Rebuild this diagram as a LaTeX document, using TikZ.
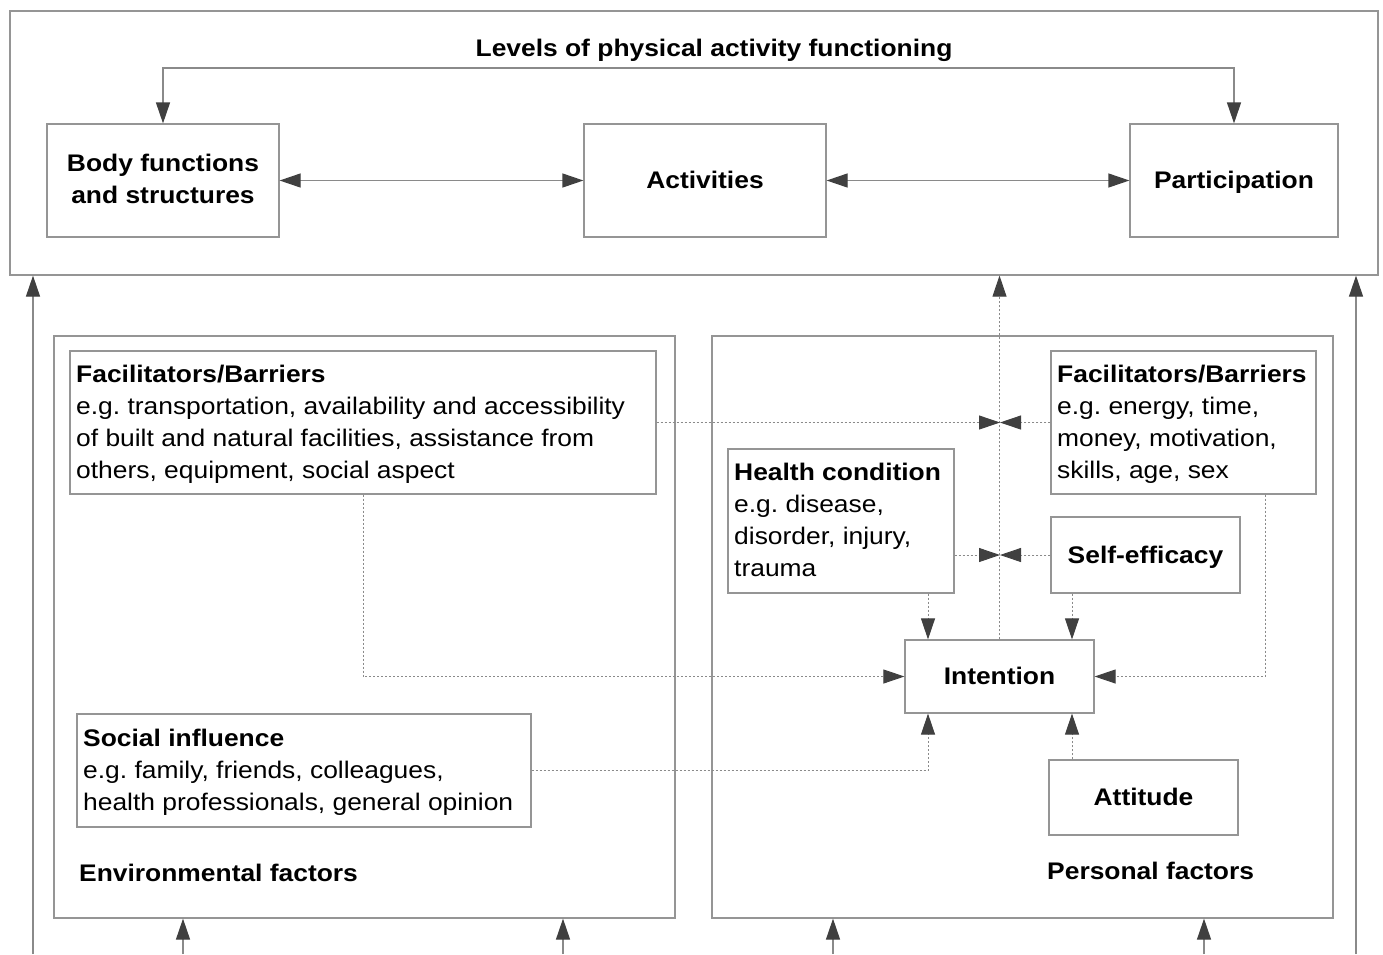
\documentclass[tikz,border=0pt]{standalone}
\usepackage{fontspec}
\setmainfont{Liberation Sans}[FakeStretch=1.1]
\usetikzlibrary{arrows.meta,calc}
\definecolor{boxgray}{HTML}{959595}
\definecolor{linegray}{HTML}{8A8A8A}
\definecolor{tipgray}{HTML}{404040}
\frenchspacing
\tikzset{
  box/.style={draw=boxgray,line width=1.2pt,inner sep=0pt,fill=white},
  con/.style={draw=linegray,line width=1.2pt},
  dotcon/.style={draw=linegray,line width=0.9pt,dash pattern=on 2pt off 2pt},
  tip/.style={-{Triangle[length=21pt,width=14pt,color=tipgray]}},
  tips/.style={{Triangle[length=21pt,width=14pt,color=tipgray]}-{Triangle[length=21pt,width=14pt,color=tipgray]}},
  txt/.style={inner sep=0pt,anchor=base west,font=\fontsize{24}{32}\selectfont},
  btxt/.style={inner sep=0pt,anchor=base west,font=\fontsize{24}{32}\selectfont\bfseries},
  ctxt/.style={inner sep=0pt,anchor=base,font=\fontsize{24}{32}\selectfont\bfseries},
}
\begin{document}
\begin{tikzpicture}[x=1pt,y=-1pt]
\useasboundingbox (0,0) rectangle (1383,954);
% boxes
\node[box,minimum width=1368pt,minimum height=264pt] (outer) at (694,143) {};
\node[box,minimum width=232pt,minimum height=113pt] (body) at (163,180.5) {};
\node[box,minimum width=242pt,minimum height=113pt] (act) at (705,180.5) {};
\node[box,minimum width=208pt,minimum height=113pt] (part) at (1234,180.5) {};
\node[box,minimum width=621pt,minimum height=582pt] (env) at (364.5,627) {};
\node[box,minimum width=621pt,minimum height=582pt] (pers) at (1022.5,627) {};
\node[box,minimum width=586pt,minimum height=143pt] (fbl) at (363,422.5) {};
\node[box,minimum width=265pt,minimum height=143pt] (fbr) at (1183.5,422.5) {};
\node[box,minimum width=226pt,minimum height=144pt] (hc) at (841,521) {};
\node[box,minimum width=189pt,minimum height=76pt] (se) at (1145.5,555) {};
\node[box,minimum width=189pt,minimum height=73pt] (int) at (999.5,676.5) {};
\node[box,minimum width=189pt,minimum height=75pt] (att) at (1143.5,797.5) {};
\node[box,minimum width=454pt,minimum height=113pt] (si) at (304,770.5) {};
% texts
\node[ctxt] (title) at (714,56) {Levels of physical activity functioning};
\node[ctxt] (bodyt1) at (163,171) {Body functions};
\node[ctxt] (bodyt2) at (163,203) {and structures};
\node[ctxt] (actt) at (705,188) {Activities};
\node[ctxt] (partt) at (1234,188) {Participation};
\node[btxt] (fbl1) at (76,382) {Facilitators/Barriers};
\node[txt] (fbl2) at (76,414) {e.g. transportation, availability and accessibility};
\node[txt] (fbl3) at (76,446) {of built and natural facilities, assistance from};
\node[txt] (fbl4) at (76,478) {others, equipment, social aspect};
\node[btxt] (fbr1) at (1057,382) {Facilitators/Barriers};
\node[txt] (fbr2) at (1057,414) {e.g. energy, time,};
\node[txt] (fbr3) at (1057,446) {money, motivation,};
\node[txt] (fbr4) at (1057,478) {skills, age, sex};
\node[btxt] (hc1) at (734,480) {Health condition};
\node[txt] (hc2) at (734,512) {e.g. disease,};
\node[txt] (hc3) at (734,544) {disorder, injury,};
\node[txt] (hc4) at (734,576) {trauma};
\node[ctxt] (set) at (1145.5,563) {Self-efficacy};
\node[ctxt] (intt) at (999.5,684) {Intention};
\node[ctxt] (attt) at (1143.5,805) {Attitude};
\node[btxt] (si1) at (83,746) {Social influence};
\node[txt] (si2) at (83,778) {e.g. family, friends, colleagues,};
\node[txt] (si3) at (83,810) {health professionals, general opinion};
\node[btxt] (envt) at (79,881) {Environmental factors};
\node[btxt] (perst) at (1047,879) {Personal factors};
% helper coordinates
\coordinate (tb) at (700,68);
\coordinate (cx) at (1000,0);
\coordinate (ixl) at (928,0);
\coordinate (ixr) at (1072,0);
\coordinate (rx) at (1265,0);
\coordinate (l0) at (33,954);
\coordinate (r0) at (1356,954);
\coordinate (b1) at (183,954);
\coordinate (b2) at (563,954);
\coordinate (b3) at (833,954);
\coordinate (b4) at (1204,954);
% solid connectors
\draw[con,tips] (body.north) |- (tb) -| (part.north);
\draw[con,tips] (body.east) -- (act.west);
\draw[con,tips] (act.east) -- (part.west);
\draw[con,tip] (l0) -- (outer.south -| l0);
\draw[con,tip] (r0) -- (outer.south -| r0);
\draw[con,tip] (b1) -- (env.south -| b1);
\draw[con,tip] (b2) -- (env.south -| b2);
\draw[con,tip] (b3) -- (pers.south -| b3);
\draw[con,tip] (b4) -- (pers.south -| b4);
% dotted connectors
\draw[dotcon,tip] (int.north) -- (int.north |- outer.south);
\draw[dotcon,tip] (fbl.east) -- (fbl.east -| cx);
\draw[dotcon,tip] (fbr.west) -- (fbr.west -| cx);
\draw[dotcon,tip] (se.west -| hc.east) -- (se.west -| cx);
\draw[dotcon,tip] (se.west) -- (se.west -| cx);
\draw[dotcon,tip] (hc.south -| ixl) -- (int.north -| ixl);
\draw[dotcon,tip] (se.south -| ixr) -- (int.north -| ixr);
\draw[dotcon,tip] (fbl.south) |- (int.west);
\draw[dotcon,tip] (fbr.south -| rx) |- (int.east);
\draw[dotcon,tip] (si.east) -| (int.south -| ixl);
\draw[dotcon,tip] (att.north -| ixr) -- (int.south -| ixr);
\end{tikzpicture}
\end{document}
